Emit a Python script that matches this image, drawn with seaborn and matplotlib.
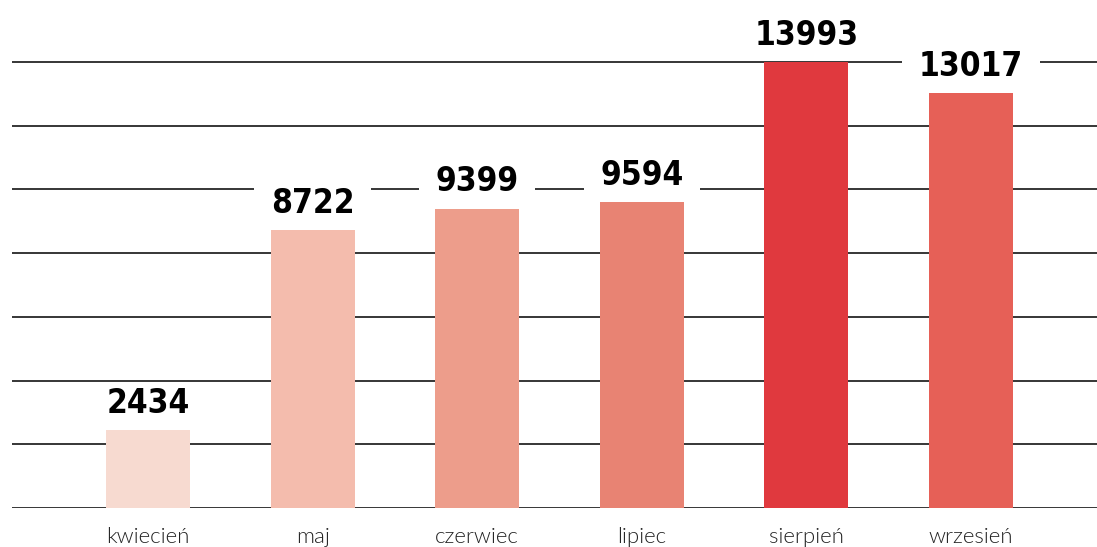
import os

import matplotlib

matplotlib.use("Agg")
import matplotlib.pyplot as plt
import pandas as pd
import seaborn as sns
from matplotlib import font_manager

# data
months = ["kwiecień", "maj", "czerwiec", "lipiec", "sierpień", "wrzesień"]
counts = [2434, 8722, 9399, 9594, 13993, 13017]
bar_colors = ["#F7DAD0", "#F4BCAD", "#ED9D8B", "#E88373", "#E0393E", "#E66057"]
grid_values = [0, 2000, 4000, 6000, 8000, 10000, 12000, 14000]

sns.set_theme(style="white")
plt.rcParams["font.family"] = ["DejaVu Sans"]


def pick_condensed_bold():
    """Find a narrow bold face for the big numbers (the original uses a Bebas-like font)."""
    paths = {os.path.basename(f.fname): f.fname for f in font_manager.fontManager.ttflist}
    wanted = ["NotoSans-ExtraCondensedBold.", "NotoSans-CondensedBold.",
              "LiberationSansNarrow-Bold.", "DejaVuSansCondensed-Bold.",
              "ExtraCondensedBold.", "CondensedBold.", "Condensed-Bold.", "Narrow-Bold."]
    for key in wanted:
        for name in paths:
            if key in name and "Italic" not in name:
                return font_manager.FontProperties(fname=paths[name], size=24)
    return font_manager.FontProperties(family="Roboto", weight="bold", size=22)


num_font = pick_condensed_bold()

df = pd.DataFrame({"month": months, "count": counts})

fig = plt.figure(figsize=(10.97, 5.47), dpi=100)
ax = fig.add_axes([12 / 1097, 39 / 547, 1 - 12 / 1097, 508 / 547])

sns.barplot(data=df, x="month", y="count", hue="month", palette=bar_colors,
            legend=False, width=0.51, saturation=1, linewidth=0, ax=ax, zorder=4)

for v in grid_values:
    ax.axhline(v, color="black", lw=1.1, zorder=1)

for i, c in enumerate(counts):
    ax.annotate(str(c), (i, c), xytext=(0, 12.5), textcoords="offset points",
                ha="center", va="baseline", color="black", zorder=3,
                fontproperties=num_font,
                bbox=dict(boxstyle="square,pad=0.5", mutation_aspect=0.3,
                          fc="white", ec="none"))

ax.set_xlim(-0.826, 5.765)
ax.set_ylim(0, 15945)
ax.set_xlabel("")
ax.set_ylabel("")
ax.set_yticks([])
ax.tick_params(axis="x", length=0, pad=14)
for lab in ax.get_xticklabels():
    lab.set_fontfamily(["Lato", "DejaVu Sans"])
    lab.set_fontweight(300)
    lab.set_fontsize(16)
    lab.set_color("#222222")
for s in ax.spines.values():
    s.set_visible(False)

fig.savefig("out.png", dpi=100)
